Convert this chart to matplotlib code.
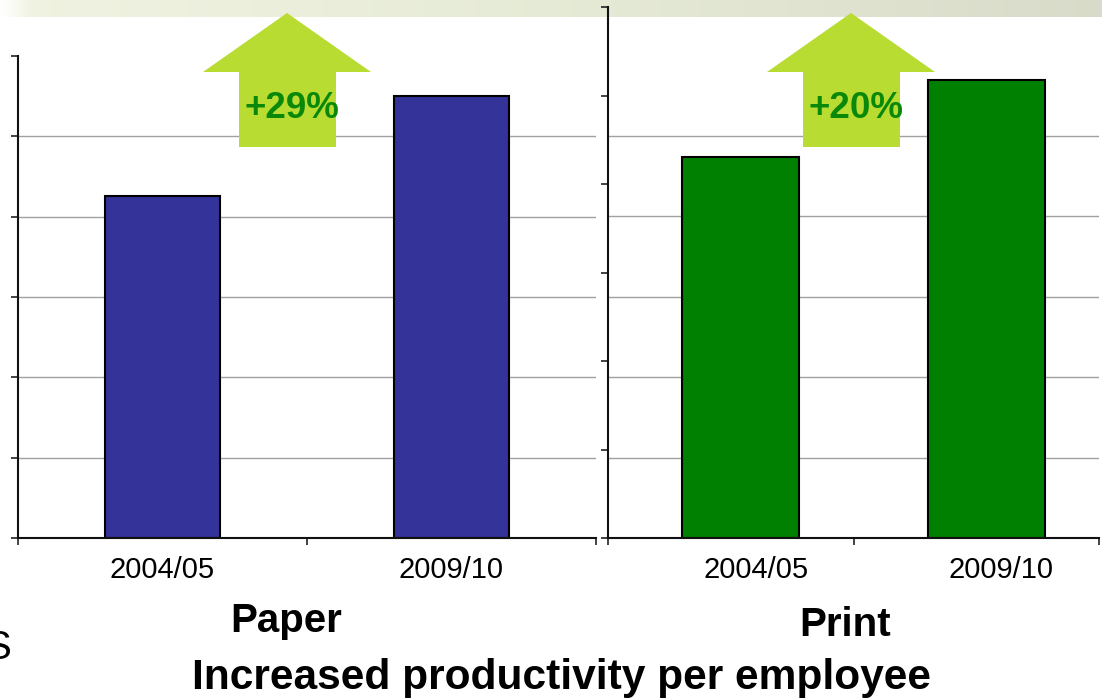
import numpy as np
import matplotlib
matplotlib.use('Agg')
import matplotlib.pyplot as plt
from matplotlib.patches import Polygon
from matplotlib.transforms import ScaledTranslation

plt.rcParams['font.family'] = ['Liberation Sans', 'DejaVu Sans']

# data (arbitrary units)
years = ['2004/05', '2009/10']
paper_vals = [4.26, 5.50]
print_vals = [4.74, 5.69]
paper_growth = '+29%'
print_growth = '+20%'
paper_ticks = [0, 1, 2, 3, 4, 5, 6]
print_ticks = [0, 1.1, 2.2, 3.3, 4.4, 5.5, 6.6]
grid_vals = [1, 2, 3, 4, 5]

W, H = 1102, 698
fig = plt.figure(figsize=(W / 100, H / 100), dpi=100)
fig.patch.set_facecolor('white')


def px(x, y):
    return (x / W, 1 - y / H)


# faint textured banner along the top edge
band = fig.add_axes([0, 1 - 17 / H, 1, 17 / H])
grad = np.linspace(0, 1, 400)
r = np.interp(grad, [0, 0.03, 0.5, 1], [1.0, 0.94, 0.90, 0.85])
g = np.interp(grad, [0, 0.03, 0.5, 1], [1.0, 0.95, 0.92, 0.86])
b = np.interp(grad, [0, 0.03, 0.5, 1], [1.0, 0.88, 0.84, 0.79])
band.imshow(np.dstack([r, g, b]), aspect='auto', extent=[0, 1, 0, 1])
band.axis('off')

ax1 = fig.add_axes([18 / W, 160 / H, 578 / W, 482 / H])
ax2 = fig.add_axes([608 / W, 160 / H, 491 / W, 531 / H])

x = np.arange(len(years))


def style(ax, xlim, ylim, yticks):
    ax.patch.set_visible(False)
    ax.set_xlim(*xlim)
    ax.set_ylim(*ylim)
    for g_ in grid_vals:
        ax.axhline(g_, color='#a0a0a0', lw=1, zorder=0)
    ax.set_yticks(yticks)
    ax.set_yticklabels([])
    ax.set_xticks([xlim[0], (xlim[0] + xlim[1]) / 2, xlim[1]])
    ax.set_xticklabels([])
    ax.set_xticks(x, years, minor=True)
    ax.tick_params(axis='both', which='major', direction='out', length=5,
                   width=1.2, color='#222222')
    ax.tick_params(axis='x', which='minor', length=0, pad=13, labelsize=21)
    for s in ['top', 'right']:
        ax.spines[s].set_visible(False)
    for s in ['left', 'bottom']:
        ax.spines[s].set_linewidth(1.5)
        ax.spines[s].set_color('#111111')


style(ax1, (-0.5, 1.5), (0, 6), paper_ticks)
ax1.bar(x, paper_vals, width=0.40, color='#333399', edgecolor='black', lw=1.5, zorder=2)

style(ax2, (-0.54, 1.46), (0, 6.6), print_ticks)
ax2.bar(x, print_vals, width=0.477, color='#008000', edgecolor='black', lw=1.5, zorder=2)
shift = ScaledTranslation(15 / 100, 0, fig.dpi_scale_trans)
for lab in ax2.get_xticklabels(minor=True):
    lab.set_transform(lab.get_transform() + shift)


# growth arrows
def arrow(cx, label):
    pts = [(cx, 13), (cx + 84, 72), (cx + 49, 72), (cx + 49, 147),
           (cx - 48, 147), (cx - 48, 72), (cx - 84, 72)]
    fig.patches.append(Polygon([px(*p) for p in pts], closed=True,
                               transform=fig.transFigure, facecolor='#b8dc32',
                               edgecolor='none', zorder=5))
    fig.text(*px(cx + 5, 108), label, ha='center', va='center', fontsize=26.5,
             fontweight='bold', color='#0a880a', zorder=6)


arrow(287, paper_growth)
arrow(851, print_growth)

fig.text(*px(286, 632), 'Paper', ha='center', va='baseline', fontsize=29, fontweight='bold')
fig.text(*px(845, 636), 'Print', ha='center', va='baseline', fontsize=29, fontweight='bold')
fig.text(*px(562, 689), 'Increased productivity per employee', ha='center',
         va='baseline', fontsize=30.6, fontweight='bold')
fig.text(*px(11, 659), 'S', ha='right', va='baseline', fontsize=29)

fig.savefig('out.png', dpi=100)
